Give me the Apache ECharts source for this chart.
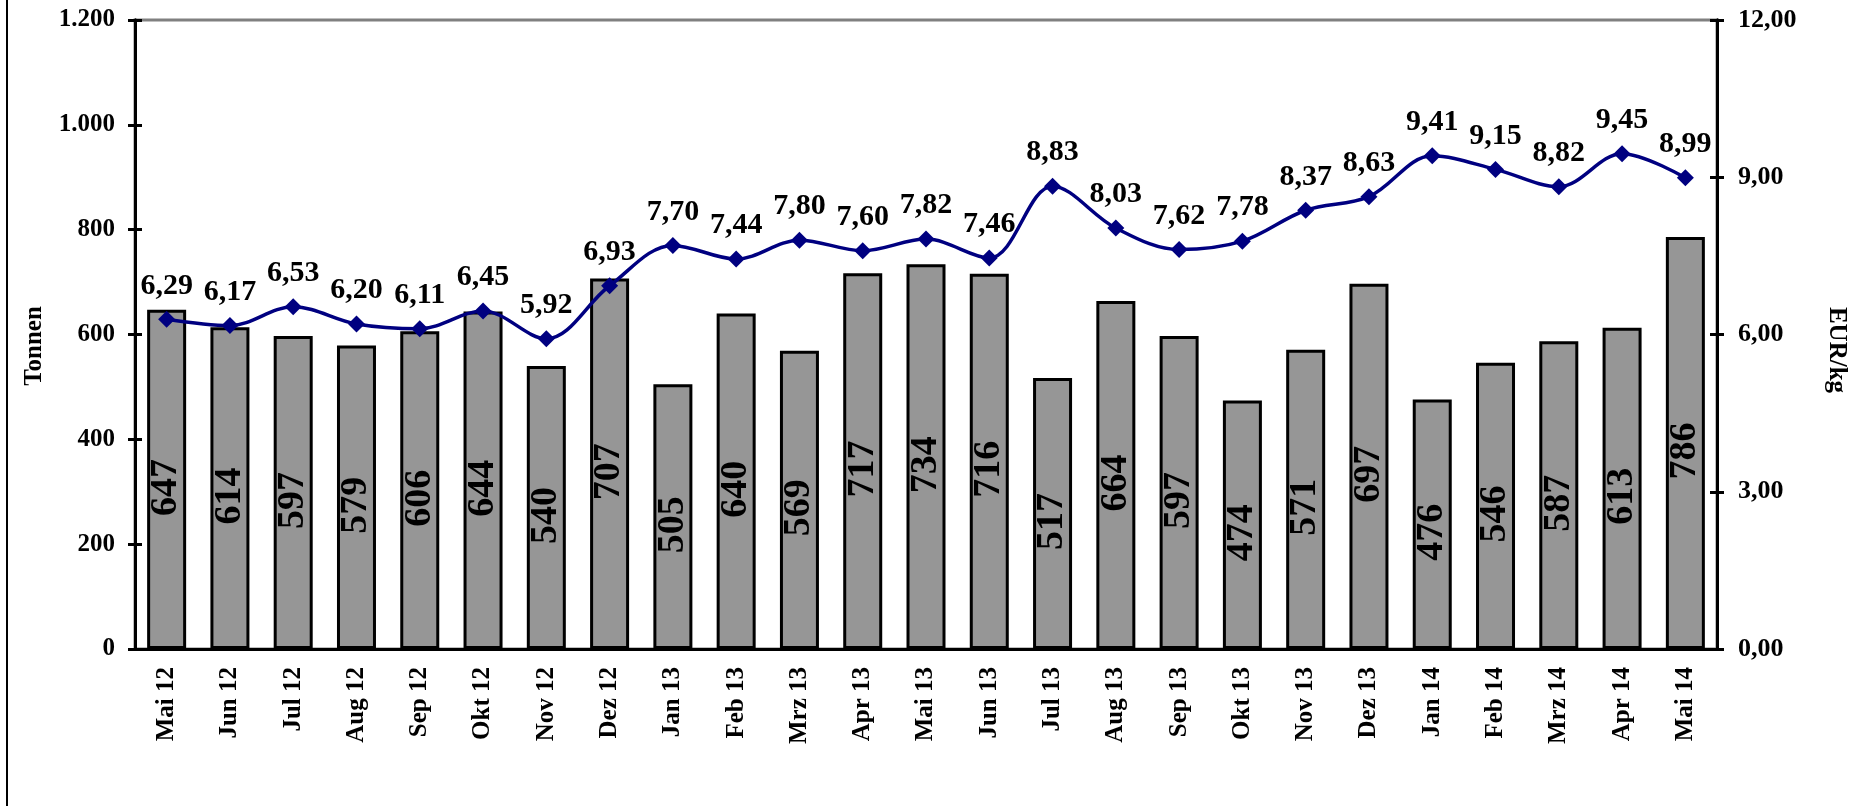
<!DOCTYPE html>
<html>
<head>
<meta charset="utf-8">
<script src="https://cdn.jsdelivr.net/npm/echarts@6/dist/echarts.min.js"></script>
<style>
html,body{margin:0;padding:0;background:#fff;}
#chart{width:1876px;height:806px;}
</style>
</head>
<body>
<div id="chart"></div>
<script>
const categories = ["Mai 12","Jun 12","Jul 12","Aug 12","Sep 12","Okt 12","Nov 12","Dez 12","Jan 13","Feb 13","Mrz 13","Apr 13","Mai 13","Jun 13","Jul 13","Aug 13","Sep 13","Okt 13","Nov 13","Dez 13","Jan 14","Feb 14","Mrz 14","Apr 14","Mai 14"];
const tonnen = [647,614,597,579,606,644,540,707,505,640,569,717,734,716,517,664,597,474,571,697,476,546,587,613,786];
const preis = [6.29,6.17,6.53,6.20,6.11,6.45,5.92,6.93,7.70,7.44,7.80,7.60,7.82,7.46,8.83,8.03,7.62,7.78,8.37,8.63,9.41,9.15,8.82,9.45,8.99];
const leftAxisRange = [0, 1200, 200];
const rightAxisRange = [0, 12, 3];
const leftName = "Tonnen";
const rightName = "EUR/kg";

const FONT = "'Liberation Serif','Times New Roman',serif";
function fmtThousands(v){
  if (v >= 1000) return Math.floor(v/1000) + "." + String(v % 1000).padStart(3, "0");
  return String(v);
}
function fmtDec(v){ return v.toFixed(2).replace(".", ","); }

const chart = echarts.init(document.getElementById("chart"), null, {renderer: "canvas"});
const baseY = {
  type: "value",
  splitLine: {show: false},
  axisLine: {show: true, lineStyle: {color: "#000", width: 3}},
  axisTick: {show: true, length: 7, lineStyle: {color: "#000", width: 3}}
};
chart.setOption({
  animation: false,
  backgroundColor: "#fff",
  grid: {left: 135, right: 159, top: 20, bottom: 157, show: true, borderColor: "#808080", borderWidth: 3, backgroundColor: "transparent"},
  graphic: [
    {type: "line", shape: {x1: 7, y1: 0, x2: 7, y2: 806}, style: {stroke: "#000", lineWidth: 2}},
    {type: "text", x: 35, y: 346, rotation: Math.PI / 2,
     style: {text: leftName, font: "bold 25px " + FONT, fill: "#000", align: "center", verticalAlign: "middle"}},
    {type: "text", x: 1836, y: 350, rotation: -Math.PI / 2,
     style: {text: rightName, font: "bold 25px " + FONT, fill: "#000", align: "center", verticalAlign: "middle"}}
  ],
  xAxis: {
    type: "category",
    data: categories,
    axisLine: {show: true, lineStyle: {color: "#000", width: 3}},
    axisTick: {show: false},
    axisLabel: {rotate: 90, margin: 18, fontFamily: FONT, fontWeight: "bold", fontSize: 25, color: "#000"}
  },
  yAxis: [
    Object.assign({}, baseY, {
      position: "left", min: leftAxisRange[0], max: leftAxisRange[1], interval: leftAxisRange[2],
      axisLabel: {formatter: fmtThousands, margin: 20, fontFamily: FONT, fontWeight: "bold", fontSize: 25, color: "#000"}
    }),
    Object.assign({}, baseY, {
      position: "right", min: rightAxisRange[0], max: rightAxisRange[1], interval: rightAxisRange[2],
      axisLabel: {formatter: fmtDec, margin: 21, fontFamily: FONT, fontWeight: "bold", fontSize: 26, color: "#000"}
    }),
    Object.assign({}, baseY, {
      position: "left", min: leftAxisRange[0], max: leftAxisRange[1], interval: leftAxisRange[2],
      axisTick: {show: true, inside: true, length: 7, lineStyle: {color: "#000", width: 3}},
      axisLabel: {show: false}
    }),
    Object.assign({}, baseY, {
      position: "right", min: rightAxisRange[0], max: rightAxisRange[1], interval: rightAxisRange[2],
      axisTick: {show: true, inside: true, length: 7, lineStyle: {color: "#000", width: 3}},
      axisLabel: {show: false}
    })
  ],
  series: [
    {
      type: "bar",
      data: tonnen,
      yAxisIndex: 0,
      barWidth: 39,
      itemStyle: {color: "#969696", borderColor: "#000", borderWidth: 3},
      label: {show: true, position: "inside", rotate: 90, offset: [-8, 0], fontFamily: FONT, fontWeight: "bold", fontSize: 38, color: "#000"}
    },
    {
      type: "line",
      data: preis,
      yAxisIndex: 1,
      smooth: 0.35,
      symbol: "diamond",
      symbolSize: 17,
      lineStyle: {color: "#000080", width: 3.5},
      itemStyle: {color: "#000080"},
      label: {show: true, position: "top", distance: 10, formatter: p => fmtDec(p.value), fontFamily: FONT, fontWeight: "bold", fontSize: 30, color: "#000"},
      z: 5
    }
  ]
});
</script>
</body>
</html>
